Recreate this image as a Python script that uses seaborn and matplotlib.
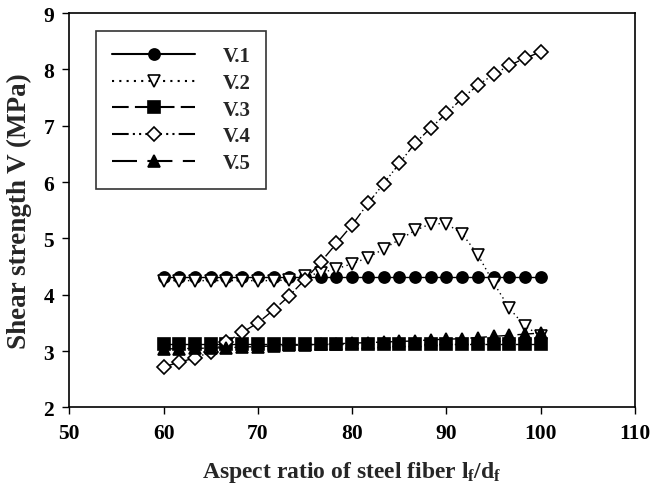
import matplotlib
matplotlib.use("Agg")
import matplotlib.pyplot as plt
import seaborn as sns
import pandas as pd

# Aspect ratio of steel fiber (lf/df)
aspect_ratio = [60.00, 61.67, 63.33, 65.00, 66.67, 68.33, 70.00, 71.67, 73.33,
                75.00, 76.67, 78.33, 80.00, 81.67, 83.33, 85.00, 86.67, 88.33,
                90.00, 91.67, 93.33, 95.00, 96.67, 98.33, 100.00]

# Shear strength V (MPa) for each model
v1 = [4.32] * 25
v2 = [4.25, 4.25, 4.25, 4.25, 4.25, 4.25, 4.25, 4.25, 4.26, 4.33, 4.39, 4.46,
      4.55, 4.66, 4.81, 4.98, 5.14, 5.26, 5.26, 5.08, 4.71, 4.21, 3.76, 3.44,
      3.27]
v3 = [3.12] * 25
v4 = [2.72, 2.80, 2.88, 2.98, 3.16, 3.33, 3.50, 3.73, 3.98, 4.27, 4.58, 4.91,
      5.24, 5.62, 5.97, 6.33, 6.69, 6.96, 7.22, 7.49, 7.72, 7.91, 8.07, 8.20,
      8.31]
v5 = [3.04, 3.04, 3.05, 3.05, 3.06, 3.07, 3.08, 3.09, 3.10, 3.11, 3.12, 3.13,
      3.14, 3.15, 3.16, 3.17, 3.18, 3.20, 3.21, 3.22, 3.24, 3.26, 3.28, 3.30,
      3.32]

series_names = ["V.1", "V.2", "V.3", "V.4", "V.5"]
x_ticks = [50, 60, 70, 80, 90, 100, 110]
y_ticks = [2, 3, 4, 5, 6, 7, 8, 9]

sns.set_theme(style="ticks")
plt.rcParams["font.family"] = ["Liberation Serif", "DejaVu Serif"]
plt.rcParams["font.weight"] = "bold"
plt.rcParams["mathtext.fontset"] = "custom"
plt.rcParams["mathtext.rm"] = "Liberation Serif:bold"
plt.rcParams["mathtext.bf"] = "Liberation Serif:bold"
plt.rcParams["mathtext.it"] = "Liberation Serif:bold"

fig = plt.figure(figsize=(6.5, 4.85), dpi=100)
ax = fig.add_axes([0.1066, 0.158, 0.8704, 0.813])

df = pd.DataFrame({"x": aspect_ratio, "V.1": v1, "V.2": v2, "V.3": v3,
                   "V.4": v4, "V.5": v5})

styles = {
    "V.1": dict(marker="o", linestyle="-", markerfacecolor="black", markersize=8),
    "V.2": dict(marker="v", linestyle=(0, (1, 2.5)), markerfacecolor="white", markersize=8.5),
    "V.3": dict(marker="s", linestyle=(0, (8, 3)), markerfacecolor="black", markersize=8),
    "V.4": dict(marker="D", linestyle=(0, (8, 2, 1, 2, 1, 2)), markerfacecolor="white", markersize=7.5),
    "V.5": dict(marker="^", linestyle=(0, (12, 5)), markerfacecolor="black", markersize=9),
}

for name in series_names:
    st = styles[name]
    sns.lineplot(data=df, x="x", y=name, ax=ax, color="black", linewidth=1.0,
                 marker=st["marker"], linestyle=st["linestyle"],
                 markerfacecolor=st["markerfacecolor"], markeredgecolor="black",
                 markeredgewidth=1.2, markersize=st["markersize"], label=name)

ax.set_xlim(50, 110)
ax.set_ylim(2, 9)
ax.set_xticks(x_ticks)
ax.set_yticks(y_ticks)
ax.tick_params(axis="both", direction="out", length=5, width=1, colors="black",
               labelsize=15.5, pad=6)
for lab in ax.get_xticklabels() + ax.get_yticklabels():
    lab.set_fontweight("bold")
for sp in ax.spines.values():
    sp.set_visible(True)
    sp.set_color("black")
    sp.set_linewidth(1.2)

ax.set_xlabel(r"Aspect ratio of steel fiber l$_\mathbf{f}$/d$_\mathbf{f}$",
              fontsize=17, fontweight="bold", labelpad=12)
ax.set_ylabel("Shear strength V (MPa)", fontsize=19.5, fontweight="bold",
              labelpad=8)

leg = ax.legend(loc="upper left", bbox_to_anchor=(0.048, 0.955),
                borderaxespad=0, frameon=True, fancybox=False, fontsize=15,
                handlelength=4.0, handletextpad=1.3, labelspacing=0.32,
                borderpad=0.75)
leg.get_frame().set_edgecolor("black")
leg.get_frame().set_linewidth(1.2)
for t in leg.get_texts():
    t.set_fontweight("bold")
for line in leg.get_lines():
    line.set_linewidth(1.5)

fig.savefig("out.png", dpi=100)
